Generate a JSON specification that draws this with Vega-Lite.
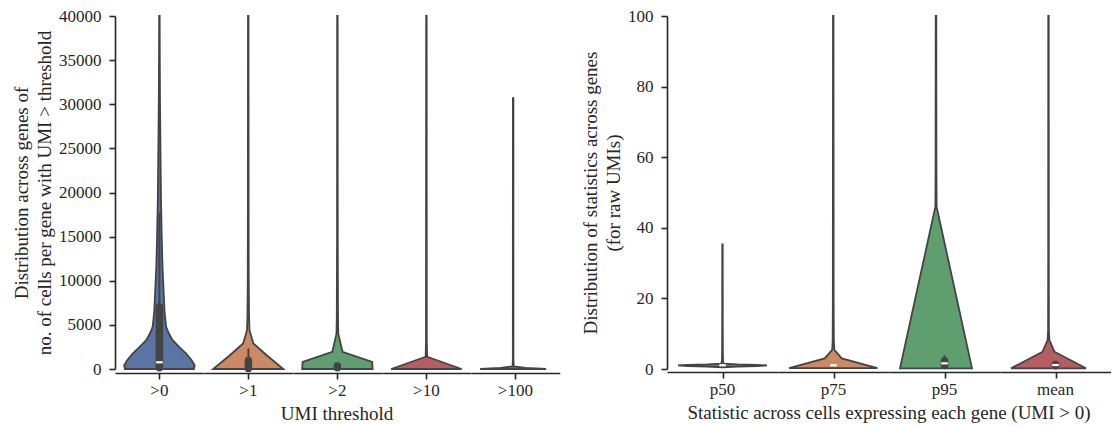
{
  "$schema": "https://vega.github.io/schema/vega-lite/v6.json",
  "background": "white",
  "padding": {"left": 12, "top": 7, "right": 0, "bottom": 0},
  "spacing": 21,
  "config": {
    "font": "Liberation Serif",
    "view": {"stroke": null},
    "axis": {
      "labelFont": "Liberation Serif", "titleFont": "Liberation Serif",
      "labelFontSize": 17, "titleFontSize": 19, "titleFontWeight": "normal",
      "labelColor": "#262626", "titleColor": "#262626",
      "domainColor": "#262626", "tickColor": "#262626",
      "domainWidth": 1.6, "tickWidth": 1.6, "tickSize": 6,
      "labelPadding": 8, "titlePadding": 4, "titleLineHeight": 23,
      "grid": false, "zindex": 1
    },
    "header": {
      "labelFont": "Liberation Serif", "labelFontSize": 17, "labelColor": "#262626",
      "titleFont": "Liberation Serif", "titleFontSize": 19, "titleFontWeight": "normal", "titleColor": "#262626",
      "labelOrient": "bottom", "titleOrient": "bottom", "labelPadding": 3, "titlePadding": -4
    }
  },
  "hconcat": [
    {
      "data": {"values": [
        {"cat": ">0", "value": 0, "density": 69},
        {"cat": ">0", "value": 400, "density": 70.5},
        {"cat": ">0", "value": 1000, "density": 64.5},
        {"cat": ">0", "value": 1780, "density": 53},
        {"cat": ">0", "value": 2530, "density": 39},
        {"cat": ">0", "value": 3290, "density": 26},
        {"cat": ">0", "value": 4080, "density": 18.5},
        {"cat": ">0", "value": 4790, "density": 13.5},
        {"cat": ">0", "value": 6350, "density": 10.5},
        {"cat": ">0", "value": 7820, "density": 9.2},
        {"cat": ">0", "value": 11590, "density": 6.2},
        {"cat": ">0", "value": 15410, "density": 4.5},
        {"cat": ">0", "value": 19150, "density": 3.2},
        {"cat": ">0", "value": 22920, "density": 2.5},
        {"cat": ">0", "value": 26740, "density": 1.8},
        {"cat": ">0", "value": 30480, "density": 1.2},
        {"cat": ">0", "value": 35000, "density": 0.8},
        {"cat": ">0", "value": 40000, "density": 0.5},
        {"cat": ">1", "value": 0, "density": 70.2},
        {"cat": ">1", "value": 1500, "density": 38},
        {"cat": ">1", "value": 2900, "density": 10.2},
        {"cat": ">1", "value": 4400, "density": 2.5},
        {"cat": ">1", "value": 6000, "density": 1.6},
        {"cat": ">1", "value": 10000, "density": 1.0},
        {"cat": ">1", "value": 20000, "density": 0.7},
        {"cat": ">1", "value": 40000, "density": 0.5},
        {"cat": ">2", "value": 0, "density": 70.5},
        {"cat": ">2", "value": 800, "density": 69.5},
        {"cat": ">2", "value": 1950, "density": 10.2},
        {"cat": ">2", "value": 4000, "density": 1.8},
        {"cat": ">2", "value": 6000, "density": 1.2},
        {"cat": ">2", "value": 15000, "density": 0.7},
        {"cat": ">2", "value": 40000, "density": 0.5},
        {"cat": ">10", "value": 0, "density": 70.5},
        {"cat": ">10", "value": 1390, "density": 1.5},
        {"cat": ">10", "value": 3000, "density": 0.8},
        {"cat": ">10", "value": 40000, "density": 0.5},
        {"cat": ">100", "value": 0, "density": 66},
        {"cat": ">100", "value": 120, "density": 25},
        {"cat": ">100", "value": 300, "density": 1.2},
        {"cat": ">100", "value": 1000, "density": 0.6},
        {"cat": ">100", "value": 30700, "density": 0.5},
        {"cat": ">0", "lo": 0, "hi": 17700, "q1": 150, "q3": 7025, "med": 760},
        {"cat": ">1", "lo": 0, "hi": 2350, "q1": 50, "q3": 970},
        {"cat": ">2", "q1": 150, "q3": 350}
      ]},
      "facet": {
        "column": {
          "field": "cat", "type": "nominal",
          "sort": [">0", ">1", ">2", ">10", ">100"],
          "title": "UMI threshold"
        }
      },
      "spacing": 0,
      "spec": {
        "width": 88.8,
        "height": 353,
        "layer": [
          {
            "transform": [{"filter": "isValid(datum.density)"}],
            "mark": {"type": "area", "orient": "horizontal", "stroke": "#444444", "strokeWidth": 1.8, "strokeJoin": "miter", "fillOpacity": 1},
            "encoding": {
              "y": {"field": "value", "type": "quantitative",
                    "scale": {"domain": [0, 40000], "nice": false},
                    "axis": {"values": [0, 5000, 10000, 15000, 20000, 25000, 30000, 35000, 40000], "format": "d"},
                    "title": ["Distribution across genes of", "no. of cells per gene with UMI > threshold"]},
              "x": {"field": "density", "type": "quantitative", "stack": "center", "impute": null,
                    "scale": {"domain": [-9.15, 79.65], "nice": false, "zero": false},
                    "axis": {"values": [35.25], "labels": false, "title": null}, "title": null},
              "color": {"field": "cat", "type": "nominal",
                        "scale": {"domain": [">0", ">1", ">2", ">10", ">100"], "range": ["#5875a4", "#cc8963", "#5f9e6e", "#b55d60", "#857aab"]},
                        "legend": null}
            }
          },
          {
            "transform": [{"filter": "isValid(datum.lo)"}],
            "mark": {"type": "rule", "color": "#444444", "strokeWidth": 2},
            "encoding": {
              "x": {"datum": 35.25, "type": "quantitative", "title": null},
              "y": {"field": "lo", "type": "quantitative", "title": ["Distribution across genes of", "no. of cells per gene with UMI > threshold"]},
              "y2": {"field": "hi"}
            }
          },
          {
            "transform": [{"filter": "isValid(datum.q1)"}],
            "mark": {"type": "rule", "color": "#444444", "strokeWidth": 7.5, "strokeCap": "round"},
            "encoding": {
              "x": {"datum": 35.25, "type": "quantitative", "title": null},
              "y": {"field": "q1", "type": "quantitative", "title": ["Distribution across genes of", "no. of cells per gene with UMI > threshold"]},
              "y2": {"field": "q3"}
            }
          },
          {
            "transform": [{"filter": "isValid(datum.med)"}],
            "mark": {"type": "tick", "orient": "horizontal", "color": "white", "size": 6.5, "thickness": 2.2, "opacity": 1},
            "encoding": {
              "x": {"datum": 35.25, "type": "quantitative", "title": null},
              "y": {"field": "med", "type": "quantitative", "title": ["Distribution across genes of", "no. of cells per gene with UMI > threshold"]}
            }
          }
        ]
      }
    },
    {
      "data": {"values": [
        {"cat": "p50", "value": 0.5, "density": 0.3},
        {"cat": "p50", "value": 0.7, "density": 30},
        {"cat": "p50", "value": 0.85, "density": 70},
        {"cat": "p50", "value": 1.0, "density": 89},
        {"cat": "p50", "value": 1.15, "density": 70},
        {"cat": "p50", "value": 1.3, "density": 30},
        {"cat": "p50", "value": 1.5, "density": 4},
        {"cat": "p50", "value": 1.8, "density": 1.5},
        {"cat": "p50", "value": 3, "density": 0.9},
        {"cat": "p50", "value": 10, "density": 0.6},
        {"cat": "p50", "value": 35.3, "density": 0.4},
        {"cat": "p75", "value": 0.25, "density": 88.5},
        {"cat": "p75", "value": 3.0, "density": 17},
        {"cat": "p75", "value": 5.4, "density": 2.2},
        {"cat": "p75", "value": 8, "density": 1.2},
        {"cat": "p75", "value": 20, "density": 0.8},
        {"cat": "p75", "value": 100, "density": 0.5},
        {"cat": "p95", "value": 0.2, "density": 72},
        {"cat": "p95", "value": 46, "density": 1.2},
        {"cat": "p95", "value": 60, "density": 0.8},
        {"cat": "p95", "value": 100, "density": 0.6},
        {"cat": "mean", "value": 0.2, "density": 75},
        {"cat": "mean", "value": 4.9, "density": 11.8},
        {"cat": "mean", "value": 8.2, "density": 1.8},
        {"cat": "mean", "value": 11, "density": 0.8},
        {"cat": "mean", "value": 30, "density": 0.6},
        {"cat": "mean", "value": 100, "density": 0.5},
        {"cat": "p50", "med": 1.05},
        {"cat": "p75", "med": 1.05},
        {"cat": "p95", "lo": 0.5, "hi": 3.9, "q1": 1.0, "q3": 2.35, "med": 1.6},
        {"cat": "mean", "q1": 0.9, "q3": 1.3, "med": 1.13}
      ]},
      "facet": {
        "column": {
          "field": "cat", "type": "nominal",
          "sort": ["p50", "p75", "p95", "mean"],
          "title": "Statistic across cells expressing each gene (UMI > 0)"
        }
      },
      "spacing": 0,
      "spec": {
        "width": 111,
        "height": 353,
        "layer": [
          {
            "transform": [{"filter": "isValid(datum.density)"}],
            "mark": {"type": "area", "orient": "horizontal", "stroke": "#444444", "strokeWidth": 1.8, "strokeJoin": "miter", "fillOpacity": 1},
            "encoding": {
              "y": {"field": "value", "type": "quantitative",
                    "scale": {"domain": [0, 100], "nice": false},
                    "axis": {"values": [0, 20, 40, 60, 80, 100]},
                    "title": ["Distribution of statistics across genes", "(for raw UMIs)"]},
              "x": {"field": "density", "type": "quantitative", "stack": "center", "impute": null,
                    "scale": {"domain": [-11, 100], "nice": false, "zero": false},
                    "axis": {"values": [44.5], "labels": false, "title": null}, "title": null},
              "color": {"field": "cat", "type": "nominal",
                        "scale": {"domain": ["p50", "p75", "p95", "mean"], "range": ["#5875a4", "#cc8963", "#5f9e6e", "#b55d60"]},
                        "legend": null}
            }
          },
          {
            "transform": [{"filter": "isValid(datum.lo)"}],
            "mark": {"type": "rule", "color": "#444444", "strokeWidth": 2},
            "encoding": {
              "x": {"datum": 44.5, "type": "quantitative", "title": null},
              "y": {"field": "lo", "type": "quantitative", "title": ["Distribution of statistics across genes", "(for raw UMIs)"]},
              "y2": {"field": "hi"}
            }
          },
          {
            "transform": [{"filter": "isValid(datum.q1)"}],
            "mark": {"type": "rule", "color": "#444444", "strokeWidth": 7.5, "strokeCap": "round"},
            "encoding": {
              "x": {"datum": 44.5, "type": "quantitative", "title": null},
              "y": {"field": "q1", "type": "quantitative", "title": ["Distribution of statistics across genes", "(for raw UMIs)"]},
              "y2": {"field": "q3"}
            }
          },
          {
            "transform": [{"filter": "isValid(datum.med)"}],
            "mark": {"type": "tick", "orient": "horizontal", "color": "white", "size": 6.5, "thickness": 2.2, "opacity": 1},
            "encoding": {
              "x": {"datum": 44.5, "type": "quantitative", "title": null},
              "y": {"field": "med", "type": "quantitative", "title": ["Distribution of statistics across genes", "(for raw UMIs)"]}
            }
          }
        ]
      }
    }
  ]
}
